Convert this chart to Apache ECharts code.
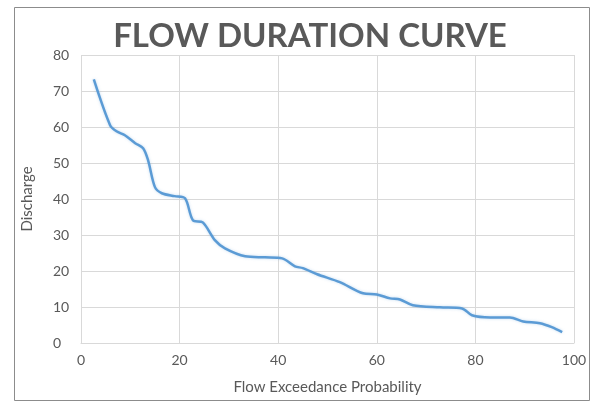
<!DOCTYPE html>
<html>
<head>
<meta charset="utf-8">
<script src="https://cdn.jsdelivr.net/npm/echarts@6/dist/echarts.min.js"></script>
<style>html,body{margin:0;padding:0;background:#fff}#c{width:595px;height:403px}</style>
</head>
<body>
<div id="c"></div>
<script>
var exceedance = [2.6, 5.9, 7.2, 8.9, 11.0, 12.6, 13.6, 15.0, 16.4, 19.0, 21.1, 22.7, 24.7, 27.2, 29.2, 33.3, 37.3, 40.8, 43.4, 45.0, 47.9, 52.5, 57.2, 60.0, 62.7, 64.7, 67.3, 72.8, 77.3, 79.3, 83.0, 87.0, 89.7, 93.1, 95.5, 97.6];
var discharge = [73.2, 60.5, 58.8, 57.7, 55.5, 54.1, 50.8, 43.3, 41.6, 40.8, 40.2, 34.1, 33.5, 28.5, 26.3, 24.1, 23.8, 23.5, 21.3, 20.8, 19.1, 16.9, 13.8, 13.5, 12.4, 12.1, 10.5, 9.9, 9.6, 7.7, 7.1, 7.1, 6.0, 5.5, 4.4, 3.0];
var xTicks = [0, 20, 40, 60, 80, 100];
var yTicks = [0, 10, 20, 30, 40, 50, 60, 70, 80];

var pts = exceedance.map(function (x, i) { return [x, discharge[i]]; });
var chart = echarts.init(document.getElementById('c'), null, {renderer: 'canvas'});
var txt = '#595959';
var font = 'Lato, "Open Sans", sans-serif';
chart.setOption({
  animation: false,
  backgroundColor: '#fff',
  title: {
    text: 'FLOW DURATION CURVE',
    left: 305, top: 15, textAlign: 'center',
    textStyle: {color: txt, fontSize: 33, fontWeight: 'bold', fontFamily: font}
  },
  graphic: [{
    type: 'rect', left: 12, top: 5,
    shape: {width: 575, height: 393},
    style: {fill: 'none', stroke: '#8c8c8c', lineWidth: 1}
  }],
  grid: {left: 81, right: 21, top: 55, bottom: 60},
  xAxis: {
    type: 'value', min: xTicks[0], max: xTicks[xTicks.length - 1], interval: 20,
    name: 'Flow Exceedance Probability', nameLocation: 'middle', nameGap: 37,
    nameTextStyle: {color: txt, fontSize: 15, fontFamily: font},
    axisLine: {show: true, lineStyle: {color: '#d9d9d9'}},
    axisTick: {show: false},
    axisLabel: {color: txt, fontSize: 14, fontFamily: font, margin: 10},
    splitLine: {show: true, lineStyle: {color: '#d9d9d9', width: 1}}
  },
  yAxis: {
    type: 'value', min: yTicks[0], max: yTicks[yTicks.length - 1], interval: 10,
    name: 'Discharge', nameLocation: 'middle', nameGap: 46,
    nameTextStyle: {color: txt, fontSize: 15, fontFamily: font},
    axisLine: {show: false},
    axisTick: {show: false},
    axisLabel: {color: txt, fontSize: 14, fontFamily: font, margin: 28, align: 'left'},
    splitLine: {show: true, lineStyle: {color: '#d9d9d9', width: 1}}
  },
  series: [{
    type: 'line', data: pts, smooth: 0.3, showSymbol: false,
    lineStyle: {color: '#5b9bd5', width: 2.5, shadowBlur: 3, shadowColor: 'rgba(91,155,213,0.35)'}
  }]
});
</script>
</body>
</html>
